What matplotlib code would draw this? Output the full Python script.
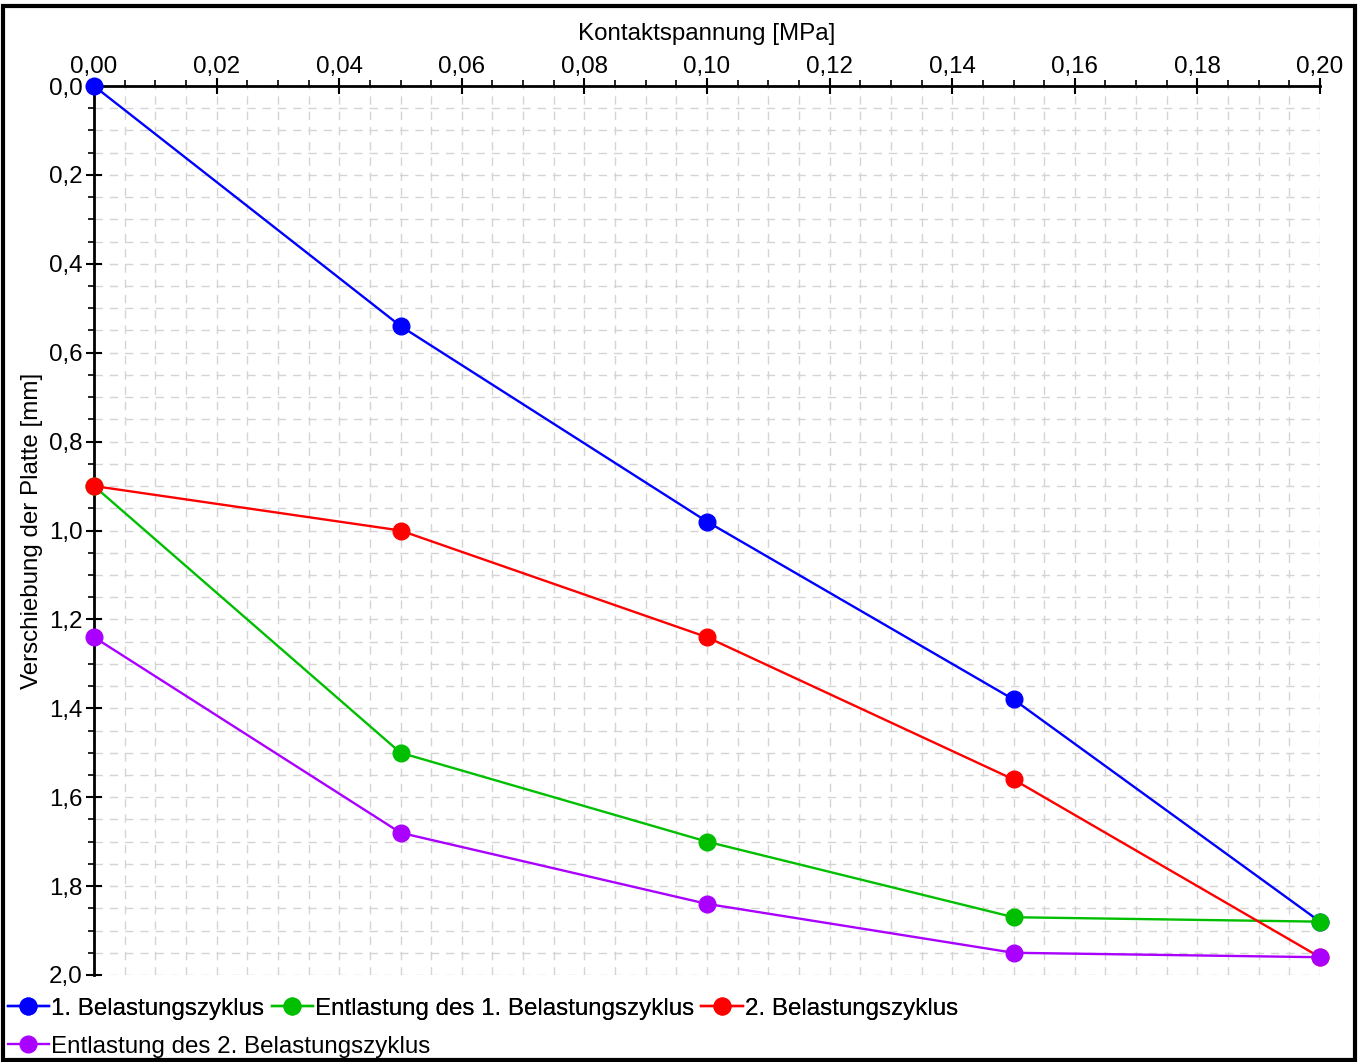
import matplotlib.pyplot as plt
from matplotlib.ticker import MultipleLocator, FuncFormatter
from matplotlib.patches import Rectangle
from matplotlib.lines import Line2D

plt.rcParams['font.family'] = ['Liberation Sans', 'DejaVu Sans']
plt.rcParams['font.size'] = 17.4

# Data: contact stress [MPa] vs. plate displacement [mm]
stress = [0.00, 0.05, 0.10, 0.15, 0.20]
load1 = [0.00, 0.54, 0.98, 1.38, 1.88]
unload1 = [0.90, 1.50, 1.70, 1.87, 1.88]
load2 = [0.90, 1.00, 1.24, 1.56, 1.96]
unload2 = [1.24, 1.68, 1.84, 1.95, 1.96]

labels = ['1. Belastungszyklus', 'Entlastung des 1. Belastungszyklus',
          '2. Belastungszyklus', 'Entlastung des 2. Belastungszyklus']
colors = ['#0000ff', '#00bf00', '#ff0000', '#aa00ff']
series = [load1, unload1, load2, unload2]

fig = plt.figure(figsize=(13.59, 10.62), dpi=100)
ax = fig.add_axes([94/1359, 1 - 975/1062, (1320 - 94)/1359, (975 - 86)/1062])

for y, c, lab in zip(series, colors, labels):
    ax.plot(stress, y, color=c, lw=1.7, marker='o', ms=12,
            label=lab, clip_on=False, zorder=3)

ax.set_xlim(0, 0.20)
ax.set_ylim(2.0, 0.0)

ax.xaxis.tick_top()
ax.xaxis.set_label_position('top')
ax.set_xlabel('Kontaktspannung [MPa]', labelpad=12)
ax.set_ylabel('Verschiebung der Platte [mm]', labelpad=4)

ax.xaxis.set_major_locator(MultipleLocator(0.02))
ax.xaxis.set_minor_locator(MultipleLocator(0.005))
ax.yaxis.set_major_locator(MultipleLocator(0.2))
ax.yaxis.set_minor_locator(MultipleLocator(0.05))
ax.xaxis.set_major_formatter(FuncFormatter(lambda v, p: f'{v:.2f}'.replace('.', ',')))
ax.yaxis.set_major_formatter(FuncFormatter(lambda v, p: f'{v:.1f}'.replace('.', ',')))

ax.tick_params(which='major', direction='inout', length=11, width=1.5, pad=3)
ax.tick_params(axis='x', which='major', pad=0)
ax.tick_params(which='minor', direction='out', length=4.5, width=1.2)

for s in ['bottom', 'right']:
    ax.spines[s].set_visible(False)
for s in ['top', 'left']:
    ax.spines[s].set_linewidth(2)

ax.grid(which='both', color='#d4d4d4', linestyle=(0, (6, 5)), linewidth=1.0)
ax.set_axisbelow(True)

# Legend: first row with three entries, second row with one
def mk(c):
    return Line2D([], [], color=c, lw=1.7, marker='o', ms=12)

leg1 = fig.legend([mk(c) for c in colors[:3]], labels[:3], ncol=3,
                  loc='upper left', bbox_to_anchor=(3/1359, 1 - 993/1062),
                  frameon=False, handlelength=1.7, handletextpad=0.1,
                  columnspacing=0.3, borderaxespad=0, borderpad=0.2)
fig.add_artist(leg1)
fig.legend([mk(colors[3])], labels[3:], loc='upper left',
           bbox_to_anchor=(3/1359, 1 - 1031/1062), frameon=False,
           handlelength=1.7, handletextpad=0.1, borderaxespad=0, borderpad=0.2)

# Outer frame
fig.add_artist(Rectangle((3/1359, 2/1062), 1 - 7/1359, 1 - 8/1062,
                         transform=fig.transFigure, fill=False,
                         edgecolor='black', linewidth=3))

fig.savefig('out.png', dpi=100)
